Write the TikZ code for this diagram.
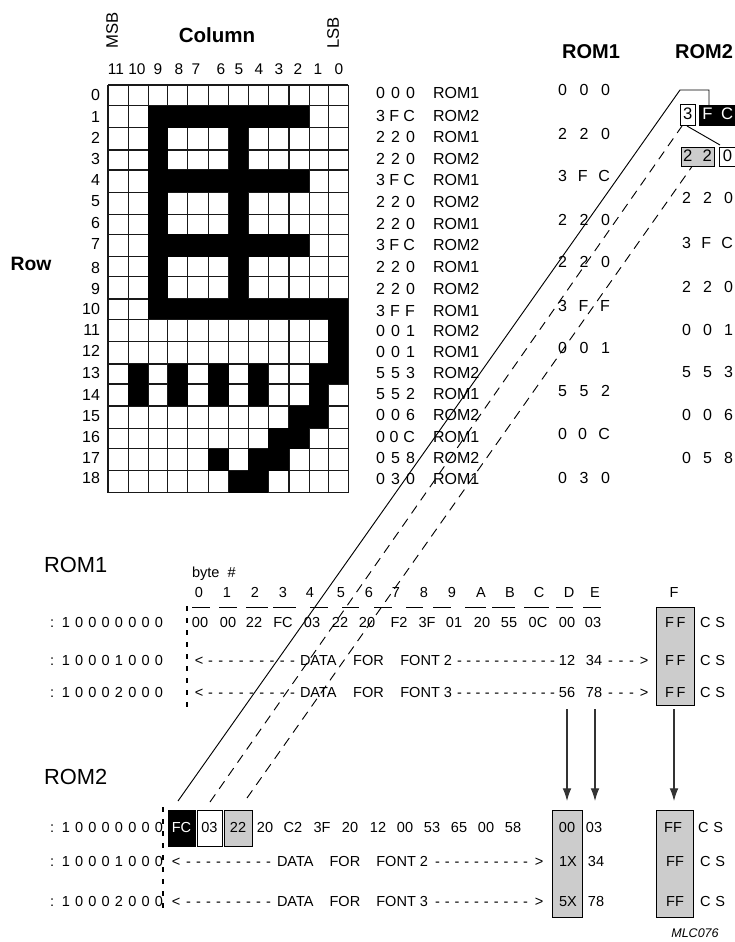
\documentclass[tikz,border=0pt]{standalone}
\usepackage{fontspec}
\setmainfont{Liberation Sans}
\usetikzlibrary{arrows.meta}
\newcounter{tn}
\definecolor{boxgray}{gray}{0.8}
\newdimen\pxu \pxu=0.75pt
\tikzset{
  txt/.style={inner sep=0pt,outer sep=0pt,text height=0.72em,text depth=0pt,font=\fontsize{10.9}{12}\selectfont},
  rownum/.style={txt,font=\fontsize{12}{14}\selectfont},
  colnum/.style={txt,font=\fontsize{11.6}{14}\selectfont},
  head/.style={txt,font=\fontsize{15}{18}\bfseries\selectfont},
  bighead/.style={txt,font=\fontsize{16.4}{20}\selectfont},
  boxed/.style={draw=black,line width=0.7pt,inner sep=0pt,outer sep=0pt,text height=0.72em,text depth=0pt,font=\fontsize{10.9}{12}\selectfont},
  grayboxed/.style={boxed,fill=boxgray},
  bigboxed/.style={boxed,font=\fontsize{12.5}{14}\selectfont},
  gridline/.style={line width=1.1pt,draw=black!90},
  link/.style={line width=0.7pt,draw=black},
  dashlink/.style={line width=0.7pt,draw=black,dash pattern=on 7pt off 5pt},
  vdash/.style={line width=1.1pt,draw=black,dash pattern=on 3.5pt off 5.5pt},
  uline/.style={line width=0.7pt,draw=black},
  pointer/.style={line width=0.8pt,draw=black!80,-{Latex[length=9.5pt,width=6.5pt]}}
}
% text centred at x,y
\newcommand\T[4][txt]{\stepcounter{tn}\node[#1] (t\arabic{tn}) at (#2,#3) {#4};}
% text stretched to a width, starting at x
\newcommand\F[5][txt]{\stepcounter{tn}\node[#1,anchor=west] (t\arabic{tn}) at (#2,#3) {\makebox[#4\pxu][s]{#5}};}
% box by corners
\newcommand\B[7]{\node[#6,minimum width={(#4-#2)*.75pt},minimum height={(#5-#3)*.75pt}] (#1) at ({(#2+#4)/2},{(#3+#5)/2}) {#7};}
\def\cx{{108,128.3,148.3,167.7,187.7,208.3,228.7,248.3,268.3,289,309.3,328.3,348.3}}
\def\cy{{85,105.7,127.7,150,170,192.3,214.3,234.3,256.7,276.7,299,319.3,341.7,364,384,406,428.3,448.7,470.7,492.7}}
\begin{document}
\begin{tikzpicture}[x=0.75pt,y=-0.75pt]
\useasboundingbox (0,0) rectangle (735,942);
% --- grid
\foreach \i in {0,...,12}{
  \pgfmathsetmacro\xa{\cx[\i]}
  \draw[gridline] (\xa,85) -- (\xa,492.7);
}
\foreach \i in {0,...,19}{
  \pgfmathsetmacro\ya{\cy[\i]}
  \draw[gridline] (108,\ya) -- (348.3,\ya);
}
\foreach \r/\a/\b in {1/2/9,2/2/2,2/6/6,3/2/2,3/6/6,4/2/9,5/2/2,5/6/6,6/2/2,6/6/6,7/2/9,8/2/2,8/6/6,9/2/2,9/6/6,10/2/11,11/11/11,12/11/11,13/1/1,13/3/3,13/5/5,13/7/7,13/10/11,14/1/1,14/3/3,14/5/5,14/7/7,14/10/10,15/9/10,16/8/9,17/5/5,17/7/8,18/6/7}{
  \pgfmathsetmacro\xa{\cx[\a]}
  \pgfmathsetmacro\xb{\cx[int(\b+1)]}
  \pgfmathsetmacro\ya{\cy[\r]}
  \pgfmathsetmacro\yb{\cy[int(\r+1)]}
  \fill[black] (\xa,\ya) rectangle (\xb,\yb);
}
% --- headings
\T[head,font=\fontsize{15.4}{18}\bfseries\selectfont]{217}{38}{Column}
\node[txt,font=\fontsize{12.5}{14}\selectfont,rotate=90] (msb) at (113,30) {MSB};
\node[txt,font=\fontsize{12.5}{14}\selectfont,rotate=90] (lsb) at (334,33) {LSB};
\T[head,font=\fontsize{14.5}{16}\bfseries\selectfont]{31}{266}{Row}
\T[head]{591}{54}{ROM1}
\T[head]{704}{54}{ROM2}
\foreach \x/\s in {116/11,137/10,158/9,179/8,196/7,221/6,239/5,259/4,279/3,298/2,318/1,339/0}{\T[colnum]{\x}{70}{\s}}
\foreach \y/\s in {96/0,118/1,139/2,160/3,181/4,202/5,224/6,245/7,269/8,290/9,310/10,331/11,352/12,374/13,396/14,417/15,438/16,459/17,479/18}{\T[rownum,anchor=east]{100}{\y}{\s}}
% --- hex list
\foreach \y/\h/\r in {94/0 0 0/ROM1,117/3 F C/ROM2,138/2 2 0/ROM1,160/2 2 0/ROM2,181/3 F C/ROM1,203/2 2 0/ROM2,225/2 2 0/ROM1,246/3 F C/ROM2,268/2 2 0/ROM1,290/2 2 0/ROM2,312/3 F F/ROM1,332/0 0 1/ROM2,353/0 0 1/ROM1,374/5 5 3/ROM2,395/5 5 2/ROM1,416/0 0 6/ROM2,438/0 0 C/ROM1,459/0 5 8/ROM2,480/0 3 0/ROM1}{
  \F[rownum]{376}{\y}{39}{\h}
  \T[rownum,anchor=west]{433}{\y}{\r}
}
% --- ROM1 column
\foreach \y/\h in {91/0 0 0,135/2 2 0,177/3 F C,221/2 2 0,263/2 2 0,307/3 F F,349/0 0 1,392/5 5 2,435/0 0 C,479/0 3 0}{\F[rownum]{558}{\y}{52}{\h}}
% --- ROM2 column
\foreach \y/\h in {199/2 2 0,244/3 F C,288/2 2 0,331/0 0 1,373/5 5 3,416/0 0 6,459/0 5 8}{\F[rownum]{682}{\y}{51}{\h}}
\B{top3}{680.5}{104.5}{695}{125}{bigboxed}{3}
\B{topFC}{699.5}{105}{736}{125}{bigboxed,fill=black,text=white}{\makebox[31\pxu][s]{F C}}
\B{top22}{681}{147.5}{714}{166.5}{bigboxed,fill=boxgray}{\makebox[29\pxu][s]{2 2}}
\B{top0}{719}{147.5}{736}{166.5}{bigboxed}{0}
% --- ROM1 dump
\T[bighead,anchor=west]{44}{568}{ROM1}
\T[txt,anchor=west]{192}{573}{byte\ \ \#}
\foreach \x/\s in {199/0,227/1,255/2,283/3,310/4,341/5,369/6,396/7,424/8,452/9,481/A,510/B,539/C,569/D,595/E,674/F}{\T{\x}{593}{\s}}
\foreach \i/\a/\b in {0/192/210,1/219/237,2/246/268,3/273/296,4/310/328,5/342/359,6/374/392,7/406/423,8/433/451,9/465/486,10/492/515,11/524/549,12/556/573,13/583/601}{
  \coordinate (ua\i) at (\a,607);
  \coordinate (ub\i) at (\b,607);
  \draw[uline] (ua\i) -- (ub\i);
}
\coordinate (v1a) at (187,606);
\coordinate (v1b) at (187,712);
\draw[vdash] (v1a) -- (v1b);
\F{50}{623}{113}{: 1 0 0 0 0 0 0 0}
\F{50}{661}{113}{: 1 0 0 0 1 0 0 0}
\F{50}{693}{113}{: 1 0 0 0 2 0 0 0}
\foreach \x/\s in {200/00,228/00,254/22,283/FC,312/03,340/22,367/20,399/F2,427/3F,454/01,482/20,509/55,538/0C,567/00,593/03}{\T{\x}{623}{\s}}
\foreach \y/\f/\d/\e in {661/2/12/34,693/3/56/78}{
  \T{199}{\y}{<}
  \F{208}{\y}{87}{- - - - - - - - -}
  \F{300}{\y}{152}{DATA\ \ FOR\ \ \mbox{FONT \f}}
  \F{457}{\y}{98}{- - - - - - - - - - -}
  \T{567}{\y}{\d}
  \T{594}{\y}{\e}
  \F{608}{\y}{26}{- - -}
  \T{644}{\y}{>}
}
\B{f1box}{656}{607}{694}{705}{grayboxed}{}
\foreach \y in {623,661,693}{
  \F{665}{\y}{19}{F F}
  \F{700}{\y}{25}{C S}
}
% --- ROM2 dump
\T[bighead,anchor=west]{44}{780}{ROM2}
\F{50}{828}{113}{: 1 0 0 0 0 0 0 0}
\F{50}{862}{113}{: 1 0 0 0 1 0 0 0}
\F{50}{902}{113}{: 1 0 0 0 2 0 0 0}
\coordinate (v2a) at (163,807);
\coordinate (v2b) at (163,912);
\draw[vdash] (v2a) -- (v2b);
\B{fc}{168}{810}{195}{846}{boxed,fill=black,text=white}{FC}
\B{b03}{197}{810}{222}{846}{boxed}{03}
\B{b22}{224}{810}{252}{846}{grayboxed}{22}
\foreach \x/\s in {265/20,293/C2,322/3F,350/20,378/12,405/00,432/53,459/65,486/00,513/58}{\T{\x}{828}{\s}}
\foreach \y/\f in {862/2,902/3}{
  \T{176}{\y}{<}
  \F{186}{\y}{85}{- - - - - - - - -}
  \F{277}{\y}{151}{DATA\ \ FOR\ \ \mbox{FONT \f}}
  \F{435}{\y}{93}{- - - - - - - - - -}
  \T{539}{\y}{>}
}
\B{d2box}{552}{810}{582}{917}{grayboxed}{}
\B{f2box}{656}{810}{693}{917}{grayboxed}{}
\T{567}{828}{00}\T{568}{862}{1X}\T{568}{902}{5X}
\T{594}{828}{03}\T{596}{862}{34}\T{596}{902}{78}
\T{673}{828}{FF}\T{675}{862}{FF}\T{675}{902}{FF}
\F{698}{828}{25}{C S}\F{700}{862}{25}{C S}\F{700}{902}{25}{C S}
\T[txt,font=\fontsize{9.4}{11}\itshape\selectfont]{695}{933}{MLC076}
% --- arrows
\coordinate (a1) at (567,709);
\coordinate (a2) at (595,709);
\coordinate (a3) at (674,709);
\coordinate (a1t) at (567,801);
\coordinate (a2t) at (595,801);
\coordinate (a3t) at (674,801);
\draw[pointer] (a1) -- (a1t);
\draw[pointer] (a2) -- (a2t);
\draw[pointer] (a3) -- (a3t);
% --- long links
\coordinate (s0) at (178,801);
\coordinate (s1) at (680,90);
\coordinate (s2) at (709,90);
\draw[link] (s0) -- (s1) -- (s2) -- (topFC.north -| s2);
\coordinate (d0) at (210,802);
\coordinate (d1) at (682,126);
\draw[dashlink] (d0) -- (d1);
\coordinate (e0) at (247,798);
\coordinate (e1) at (692,166.5);
\draw[dashlink] (e0) -- (e1);
\coordinate (c0) at (687,126);
\coordinate (c1) at (720,145);
\draw[link] (c0) -- (c1);
\end{tikzpicture}
\end{document}
